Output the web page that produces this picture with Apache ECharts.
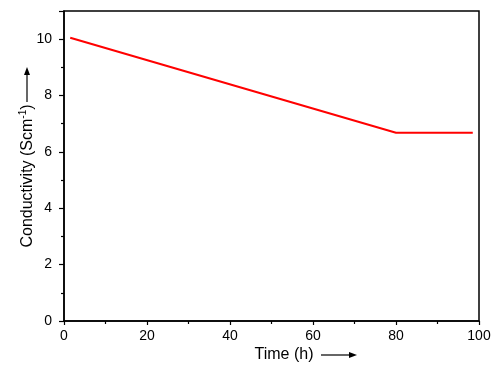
<!DOCTYPE html>
<html>
<head>
<meta charset="utf-8">
<script src="https://cdn.jsdelivr.net/npm/echarts@6/dist/echarts.min.js"></script>
<style>
  html, body { margin: 0; padding: 0; background: #fff; }
  #chart { width: 496px; height: 370px; }
</style>
</head>
<body>
<div id="chart"></div>
<script>
// values
var timeH = [1.5, 80, 98.5];
var conductivity = [10.05, 6.68, 6.68];
var xTicks = [0, 20, 40, 60, 80, 100];
var yTicks = [0, 2, 4, 6, 8, 10];

var points = timeH.map(function (t, i) { return [t, conductivity[i]]; });

var chart = echarts.init(document.getElementById('chart'));
var font = 'Liberation Sans, Arial, sans-serif';

chart.setOption({
  animation: false,
  grid: { left: 64, top: 11, width: 415, height: 310, show: true, borderColor: '#000', borderWidth: 1.5 },
  xAxis: {
    type: 'value', min: 0, max: 100, interval: 20,
    axisLine: { lineStyle: { color: '#000', width: 1.5 } },
    axisTick: { length: 4, lineStyle: { color: '#000', width: 1.2 } },
    minorTick: { show: true, splitNumber: 2, length: 3, lineStyle: { color: '#000', width: 1.2 } },
    splitLine: { show: false },
    axisLabel: {
      color: '#000', fontFamily: font, fontSize: 14, margin: 8,
      formatter: function (v) { return xTicks.indexOf(v) >= 0 ? String(v) : ''; }
    }
  },
  yAxis: {
    type: 'value', min: 0, max: 11, interval: 2,
    axisLine: { lineStyle: { color: '#000', width: 1.5 } },
    axisTick: { length: 5, lineStyle: { color: '#000', width: 1.2 } },
    minorTick: { show: true, splitNumber: 2, length: 3, lineStyle: { color: '#000', width: 1.2 } },
    splitLine: { show: false },
    axisLabel: {
      color: '#000', fontFamily: font, fontSize: 14, margin: 12, showMaxLabel: false,
      formatter: function (v) { return yTicks.indexOf(v) >= 0 ? String(v) : ''; }
    }
  },
  series: [{
    type: 'line',
    data: points,
    symbol: 'none',
    lineStyle: { color: '#ff0000', width: 2 }
  }],
  graphic: [
    {
      type: 'text', x: 284, y: 355,
      style: { text: 'Time (h)', fill: '#000', font: '16px ' + font, align: 'center', verticalAlign: 'middle' }
    },
    { type: 'line', shape: { x1: 321, y1: 355, x2: 350, y2: 355 }, style: { stroke: '#000', lineWidth: 1.2 } },
    { type: 'polygon', shape: { points: [[349, 352], [357, 355], [349, 358]] }, style: { fill: '#000' } },
    {
      type: 'text', x: 27, y: 176, rotation: Math.PI / 2,
      style: {
        text: '{n|Conductivity (Scm}{s|-1}{n|)}',
        align: 'center', verticalAlign: 'middle',
        rich: {
          n: { fontFamily: font, fontSize: 16, fill: '#000', verticalAlign: 'bottom' },
          s: { fontFamily: font, fontSize: 10, fill: '#000', verticalAlign: 'top', padding: [0, 0, 7, 0] }
        }
      }
    },
    { type: 'line', shape: { x1: 27, y1: 102, x2: 27, y2: 74 }, style: { stroke: '#000', lineWidth: 1.2 } },
    { type: 'polygon', shape: { points: [[24, 75], [27, 67], [30, 75]] }, style: { fill: '#000' } }
  ]
});
</script>
</body>
</html>
